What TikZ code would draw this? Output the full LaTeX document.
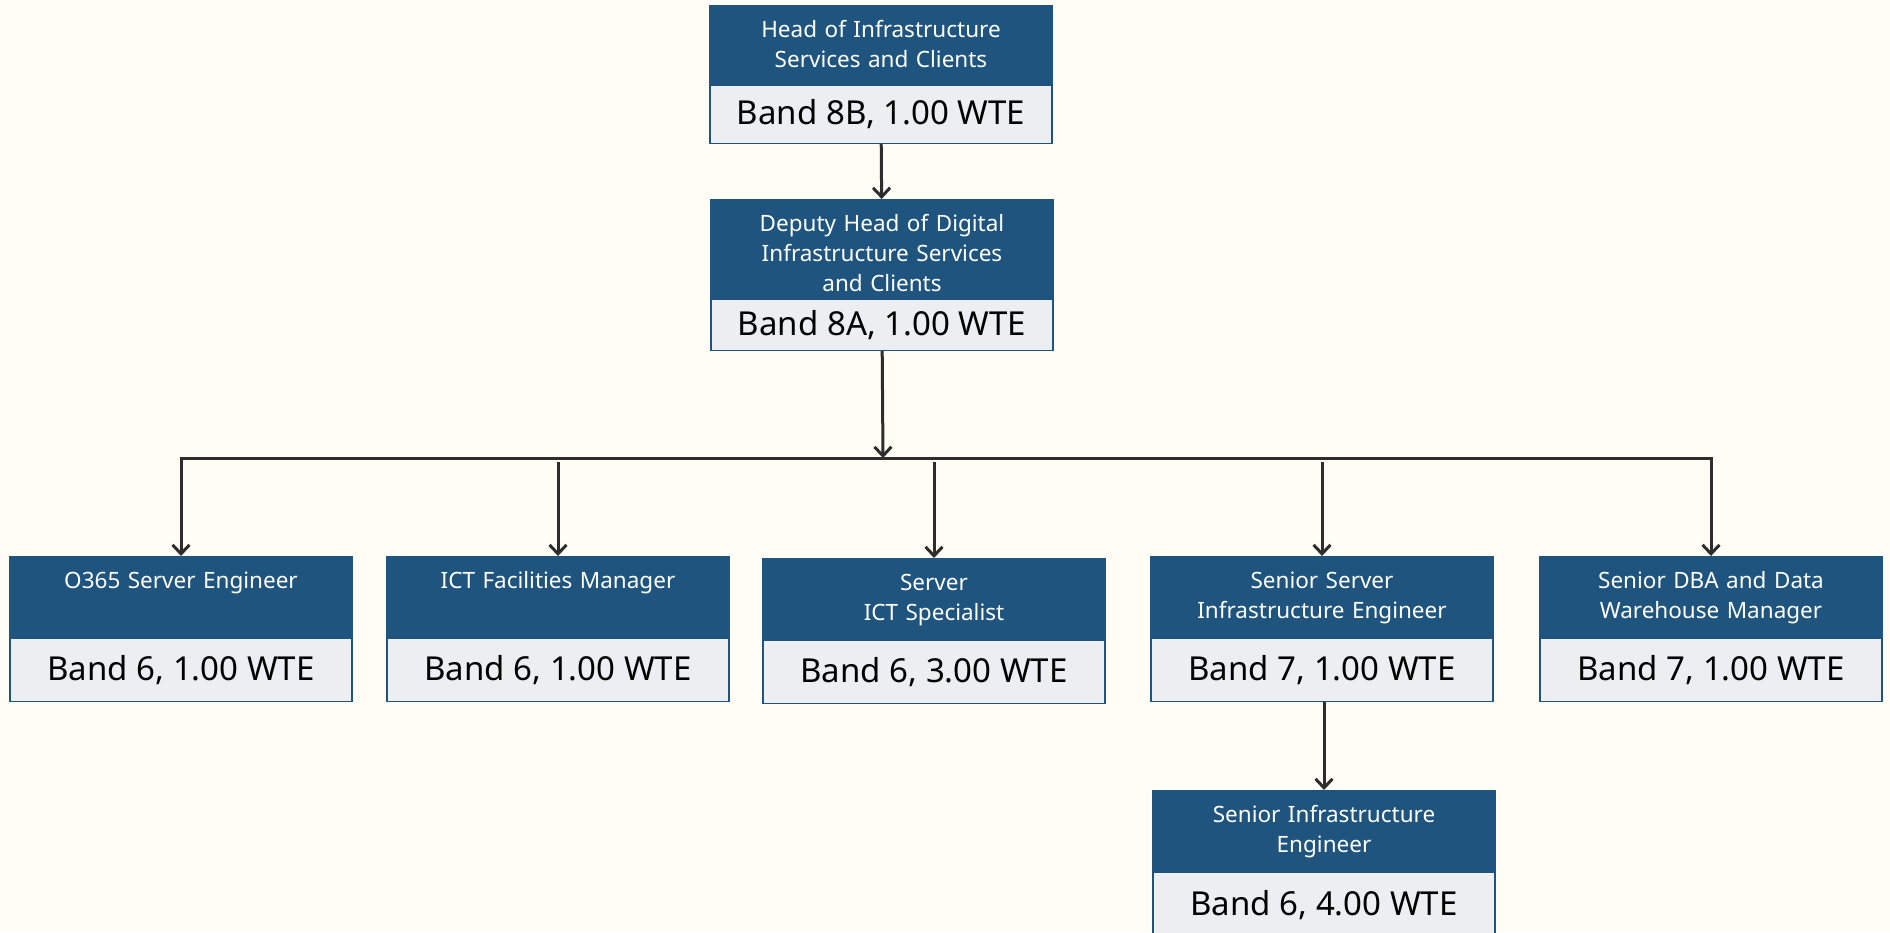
\documentclass[tikz,border=0pt]{standalone}
\usepackage{fontspec}
\setmainfont{Noto Sans}
\usetikzlibrary{positioning}
\usetikzlibrary{arrows.meta}
\definecolor{navy}{RGB}{31,84,127}
\definecolor{paper}{RGB}{236,238,242}
\definecolor{cream}{RGB}{255,253,246}
\definecolor{ink}{RGB}{45,45,45}
\tikzset{>={Straight Barb[length=9pt,width=17pt,line width=3pt]}}
\tikzset{ttl/.style={draw=navy, fill=navy, line width=1.5pt, text=white, text width=334pt, align=center, inner xsep=4pt, inner ysep=0pt, text height=32pt, text depth=48pt, anchor=north, font=\fontsize{22.5}{30}\selectfont}}
\tikzset{band/.style={draw=navy, fill=paper, line width=1.5pt, minimum width=342pt, minimum height=63pt, inner sep=0pt, font=\fontsize{33}{34}\selectfont}}
\tikzset{link/.style={draw=ink, line width=3pt}}

\begin{document}
\begin{tikzpicture}[x=1pt,y=-1pt]
\useasboundingbox[fill=cream] (0,0) rectangle (1890,932);

\node[ttl, text depth=46pt] (head) at (881, 5) {Head of Infrastructure\\Services and Clients};
\node[band, minimum height=58pt, below=0pt of head] (headb) {Band 8B, 1.00 WTE};

\node[ttl, text depth=66pt] (dep) at (882, 199) {Deputy Head of Digital\\Infrastructure Services\\and Clients};
\node[band, minimum height=51pt, below=0pt of dep] (depb) {Band 8A, 1.00 WTE};

\node[ttl] (o365) at (181, 556) {O365 Server Engineer};
\node[band, below=0pt of o365] (o365b) {Band 6, 1.00 WTE};

\node[ttl] (ict) at (558, 556) {ICT Facilities Manager};
\node[band, below=0pt of ict] (ictb) {Band 6, 1.00 WTE};

\node[ttl] (srv) at (934, 558) {Server\\ICT Specialist};
\node[band, below=0pt of srv] (srvb) {Band 6, 3.00 WTE};

\node[ttl] (ssie) at (1322, 556) {Senior Server\\Infrastructure Engineer};
\node[band, below=0pt of ssie] (ssieb) {Band 7, 1.00 WTE};

\node[ttl] (dba) at (1711, 556) {Senior DBA and Data\\Warehouse Manager};
\node[band, below=0pt of dba] (dbab) {Band 7, 1.00 WTE};

\node[ttl] (sie) at (1324, 790) {Senior Infrastructure\\Engineer};
\node[band, minimum height=66pt, below=0pt of sie] (sieb) {Band 6, 4.00 WTE};

\coordinate (bus) at (883, 458);

\draw[link, ->] (headb) -- (dep);
\draw[link, ->] (depb) -- (bus);
\draw[link] (o365.north |- bus) -- (dba.north |- bus);
\draw[link, ->] (bus) -| (o365);
\draw[link, ->] (bus) -| (dba);
\draw[link, ->] ([yshift=-4pt]ict.north |- bus) -- (ict);
\draw[link, ->] ([yshift=-4pt]srv.north |- bus) -- (srv);
\draw[link, ->] ([yshift=-4pt]ssie.north |- bus) -- (ssie);
\draw[link, ->] (ssieb.south -| sie.north) -- (sie);

\end{tikzpicture}
\end{document}
